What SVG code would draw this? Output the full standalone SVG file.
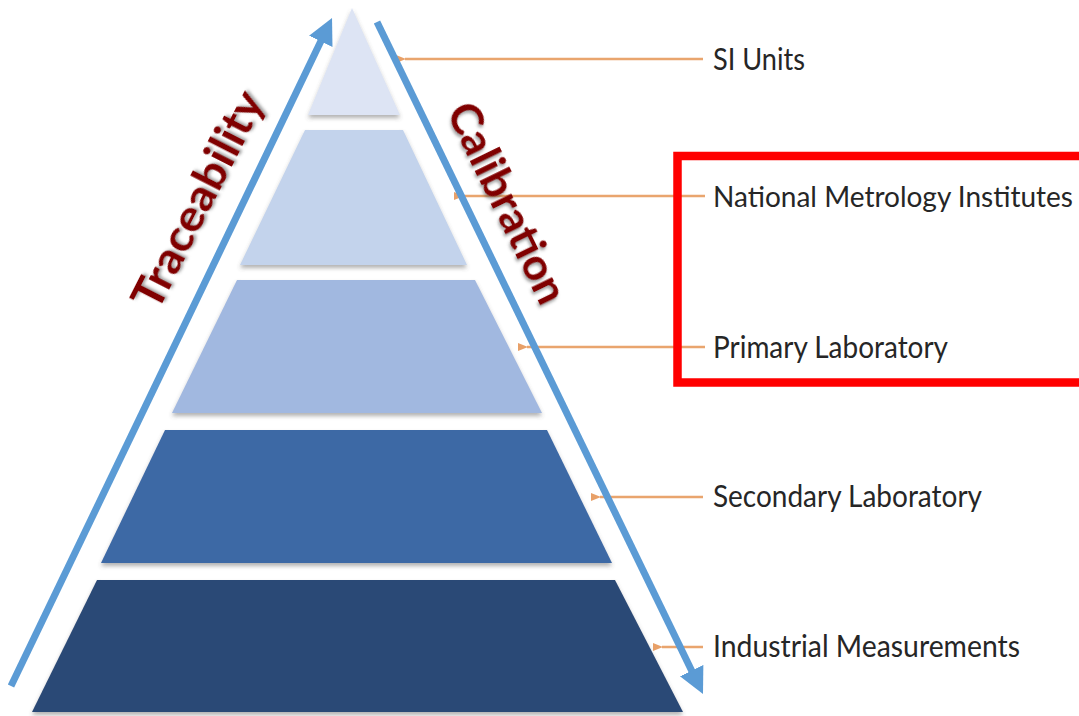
<svg xmlns="http://www.w3.org/2000/svg" width="1079" height="716" viewBox="0 0 1079 716">
  <defs>
    <filter id="sh" x="-10%" y="-10%" width="120%" height="130%">
      <feDropShadow dx="0" dy="3" stdDeviation="2" flood-color="#555" flood-opacity="0.45"/>
    </filter>
    <filter id="tsh" x="-20%" y="-20%" width="140%" height="140%">
      <feDropShadow dx="2" dy="2" stdDeviation="1.5" flood-color="#444" flood-opacity="0.5"/>
    </filter>
    <marker id="oa" markerWidth="12" markerHeight="12" refX="2" refY="5" orient="auto" markerUnits="userSpaceOnUse">
      <path d="M11,1 L1,5 L11,9 Z" fill="#e8a068"/>
    </marker>
    <marker id="ba" markerWidth="30" markerHeight="30" refX="4" refY="13" orient="auto" markerUnits="userSpaceOnUse">
      <path d="M0,0 L26,13 L0,26 Z" fill="#5b9bd5"/>
    </marker>
    <style>
      .lbl { font-family: Lato, "Open Sans", "Liberation Sans", sans-serif; font-size: 30px; fill: #262626; }
      .side { font-family: Lato, "Open Sans", "Liberation Sans", sans-serif; font-size: 44px; font-weight: bold; fill: #800000; }
      .conn { stroke: #e9a56e; stroke-width: 2.5; fill: none; }
      .blue { stroke: #5b9bd5; stroke-width: 7; fill: none; }
    </style>
  </defs>
  <rect width="1079" height="716" fill="#ffffff"/>

  <g id="layer-si">
    <polygon points="352,8 400,115 308,115" fill="#dde4f4" filter="url(#sh)"/>
  </g>
  <g id="layer-nmi">
    <polygon points="305,130 403,130 467,265 240,265" fill="#c3d3ec" filter="url(#sh)"/>
  </g>
  <g id="layer-primary">
    <polygon points="237,280 475,280 542,413 172,413" fill="#a1b8e0" filter="url(#sh)"/>
  </g>
  <g id="layer-secondary">
    <polygon points="165,430 547,430 612,563 101,563" fill="#3d69a5" filter="url(#sh)"/>
  </g>
  <g id="layer-industrial">
    <polygon points="97,580 615,580 683,712 32,712" fill="#2c4a76" filter="url(#sh)"/>
  </g>

  <g id="connectors">
    <line class="conn" x1="703" y1="59" x2="405" y2="59" marker-end="url(#oa)"/>
    <line class="conn" x1="705" y1="196" x2="463" y2="196" marker-end="url(#oa)"/>
    <line class="conn" x1="705" y1="347" x2="527" y2="347" marker-end="url(#oa)"/>
    <line class="conn" x1="703" y1="497" x2="600" y2="497" marker-end="url(#oa)"/>
    <line class="conn" x1="703" y1="647" x2="662" y2="647" marker-end="url(#oa)"/>
    <line class="blue" x1="11" y1="686" x2="322.5" y2="37.8" marker-end="url(#ba)"/>
    <line class="blue" x1="377" y1="22" x2="693.4" y2="674.2" marker-end="url(#ba)"/>
  </g>

  <g id="label-si"><text class="lbl" x="713" y="70" textLength="92" lengthAdjust="spacingAndGlyphs">SI Units</text></g>
  <g id="label-nmi"><text class="lbl" x="713" y="207" style="font-size:28px">National Metrology Institutes</text></g>
  <g id="label-primary"><text class="lbl" x="713" y="358" textLength="235" lengthAdjust="spacingAndGlyphs">Primary Laboratory</text></g>
  <g id="label-secondary"><text class="lbl" x="713" y="507" textLength="269" lengthAdjust="spacingAndGlyphs">Secondary Laboratory</text></g>
  <g id="label-industrial"><text class="lbl" x="713" y="657" textLength="307" lengthAdjust="spacingAndGlyphs">Industrial Measurements</text></g>

  <g id="traceability">
    <text class="side" filter="url(#tsh)" transform="translate(198,200) rotate(-63)" x="0" y="15" text-anchor="middle" textLength="238" lengthAdjust="spacingAndGlyphs">Traceability</text>
  </g>
  <g id="calibration">
    <text class="side" filter="url(#tsh)" transform="translate(507,203) rotate(64)" x="0" y="15" text-anchor="middle" textLength="218" lengthAdjust="spacingAndGlyphs">Calibration</text>
  </g>

  <g id="highlight">
    <path d="M1079,156 H677.5 V382.5 H1079" fill="none" stroke="#ff0000" stroke-width="8.5"/>
  </g>
</svg>
